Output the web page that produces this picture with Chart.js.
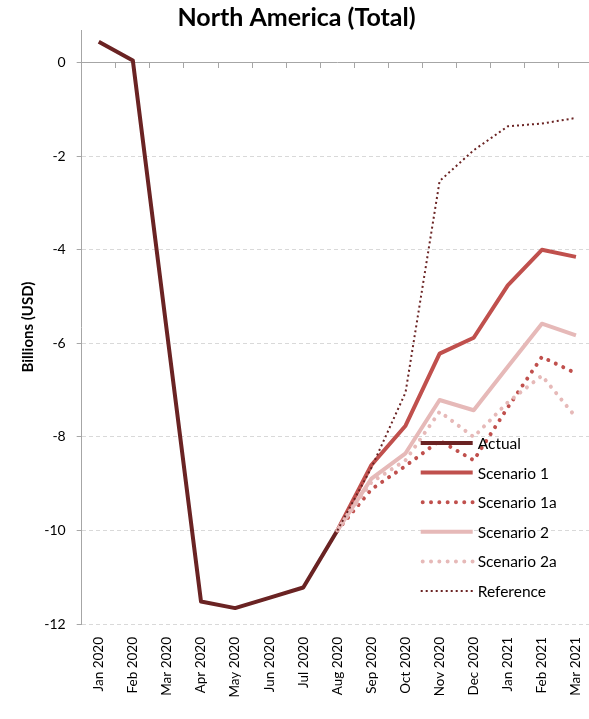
<!DOCTYPE html>
<html>
<head>
<meta charset="utf-8">
<script src="https://cdn.jsdelivr.net/npm/chart.js@4.4.0/dist/chart.umd.min.js"></script>
<style>
    html, body { margin: 0; padding: 0; background: #fff; overflow: hidden; }
    #wrap { width: 589px; height: 719px; overflow: hidden; }
</style>
</head>
<body>
<div id="wrap"><canvas id="grafico" width="593" height="719"></canvas></div>
<script>
// Meses del eje X
const labels = ['Jan 2020', 'Feb 2020', 'Mar 2020', 'Apr 2020', 'May 2020', 'Jun 2020', 'Jul 2020', 'Aug 2020',
    'Sep 2020', 'Oct 2020', 'Nov 2020', 'Dec 2020', 'Jan 2021', 'Feb 2021', 'Mar 2021'];

// Series (miles de millones USD)
const actual = [0.45, 0.05, -5.75, -11.52, -11.66, -11.44, -11.22, -10.0, null, null, null, null, null, null, null];
const scenario1 = [null, null, null, null, null, null, null, -10.0, -8.6, -7.76, -6.22, -5.88, -4.76, -4.0, -4.15];
const scenario1a = [null, null, null, null, null, null, null, -10.0, -9.12, -8.62, -8.08, -8.5, -7.37, -6.29, -6.64];
const scenario2 = [null, null, null, null, null, null, null, -10.0, -8.89, -8.35, -7.21, -7.43, -6.5, -5.58, -5.83];
const scenario2a = [null, null, null, null, null, null, null, -10.0, -8.97, -8.5, -7.46, -8.0, -7.26, -6.69, -7.58];
const reference = [null, null, null, null, null, null, null, -10.0, -8.66, -7.05, -2.53, -1.87, -1.36, -1.3, -1.18];

const yTicks = [-12, -10, -8, -6, -4, -2, 0];

const FONT = 'Lato, "Open Sans", sans-serif';
const DARK = '#6a2323';
const RED = '#c0504d';
const PINK = '#e6b9b8';

function serie(label, data, color, width, dash, cap, idx) {
    return {
        label, data,
        borderColor: color,
        backgroundColor: color,
        borderWidth: width,
        borderDash: dash,
        borderCapStyle: cap,
        borderJoinStyle: 'round',
        pointRadius: 0,
        tension: 0,
        spanGaps: false,
        xAxisID: 'x',
        order: 10 - idx   // como en Excel: la ultima serie queda encima
    };
}

const datasets = [
    serie('Actual', actual, DARK, 4, [], 'butt', 0),
    serie('Scenario 1', scenario1, RED, 4, [], 'butt', 1),
    serie('Scenario 1a', scenario1a, RED, 4, [0.01, 8.3], 'round', 2),
    serie('Scenario 2', scenario2, PINK, 4, [], 'butt', 3),
    serie('Scenario 2a', scenario2a, PINK, 4, [0.01, 8.3], 'round', 4),
    serie('Reference', reference, DARK, 2, [2, 3], 'butt', 5)
];

// Leyenda dentro del area del grafico (abajo a la derecha)
const leyendaInterna = {
    id: 'leyendaInterna',
    afterDraw(chart) {
        const { ctx, chartArea } = chart;
        const x0 = chartArea.left + 339;
        const y0 = chartArea.top + 413;
        const step = 29.6;
        chart.data.datasets.forEach((ds, i) => {
            const y = y0 + i * step;
            ctx.save();
            ctx.strokeStyle = ds.borderColor;
            ctx.lineWidth = ds.borderWidth;
            ctx.setLineDash(ds.borderDash || []);
            ctx.lineCap = ds.borderCapStyle;
            ctx.beginPath();
            ctx.moveTo(x0 + (ds.borderCapStyle === 'round' ? 2 : 0), y);
            ctx.lineTo(x0 + 52, y);
            ctx.stroke();
            ctx.restore();
            ctx.save();
            ctx.fillStyle = '#000';
            ctx.font = '15.5px ' + FONT;
            ctx.textBaseline = 'middle';
            ctx.textAlign = 'left';
            ctx.fillText(ds.label, x0 + 57, y + 1);
            ctx.restore();
        });
    }
};

const sinPadding = (scale) => { scale.paddingLeft = 0; scale.paddingRight = 0; };

const ctx = document.getElementById('grafico').getContext('2d');
new Chart(ctx, {
    type: 'line',
    data: { labels, datasets },
    plugins: [leyendaInterna],
    options: {
        responsive: false,
        animation: false,
        layout: { padding: 0 },
        plugins: {
            legend: { display: false },
            tooltip: { enabled: false },
            title: {
                display: true,
                text: 'North America (Total)',
                color: '#000',
                font: { family: FONT, size: 25, weight: 'bold', lineHeight: 1 },
                padding: { top: 5, bottom: 0 }
            }
        },
        scales: {
            x: {
                type: 'category',
                position: 'bottom',
                offset: true,
                grid: { display: false, drawTicks: false },
                border: { display: false },
                ticks: {
                    autoSkip: false,
                    minRotation: 90,
                    maxRotation: 90,
                    padding: 13,
                    color: '#000',
                    font: { family: FONT, size: 13.5 }
                },
                afterFit: (scale) => { scale.height = 95; sinPadding(scale); }
            },
            // linea del eje en el valor 0 con marcas entre categorias
            x2: {
                type: 'category',
                axis: 'x',
                labels: labels,
                position: { y: 0 },
                offset: true,
                grid: {
                    offset: true,
                    drawOnChartArea: false,
                    drawTicks: true,
                    tickLength: 5,
                    color: '#a6a6a6'
                },
                border: { display: true, color: '#a6a6a6', width: 1 },
                ticks: { display: false },
                afterFit: sinPadding
            },
            y: {
                min: -12,
                max: 0.7,
                afterBuildTicks: (scale) => { scale.ticks = yTicks.map(v => ({ value: v })); },
                grid: {
                    color: (c) => (c.tick && c.tick.value === 0 ? 'rgba(0,0,0,0)' : '#d9d9d9'),
                    tickColor: '#a6a6a6',
                    tickLength: 5,
                    drawTicks: true
                },
                border: { display: true, color: '#a6a6a6', width: 1, dash: [4, 3] },
                ticks: {
                    padding: 11,
                    color: '#000',
                    font: { family: FONT, size: 14 }
                },
                title: {
                    display: true,
                    text: 'Billions (USD)',
                    color: '#000',
                    font: { family: FONT, size: 15, weight: 'bold' },
                    padding: { top: 19, bottom: 0 }
                },
                afterFit: (scale) => { scale.width = 81.7; }
            }
        }
    }
});
</script>
</body>
</html>
